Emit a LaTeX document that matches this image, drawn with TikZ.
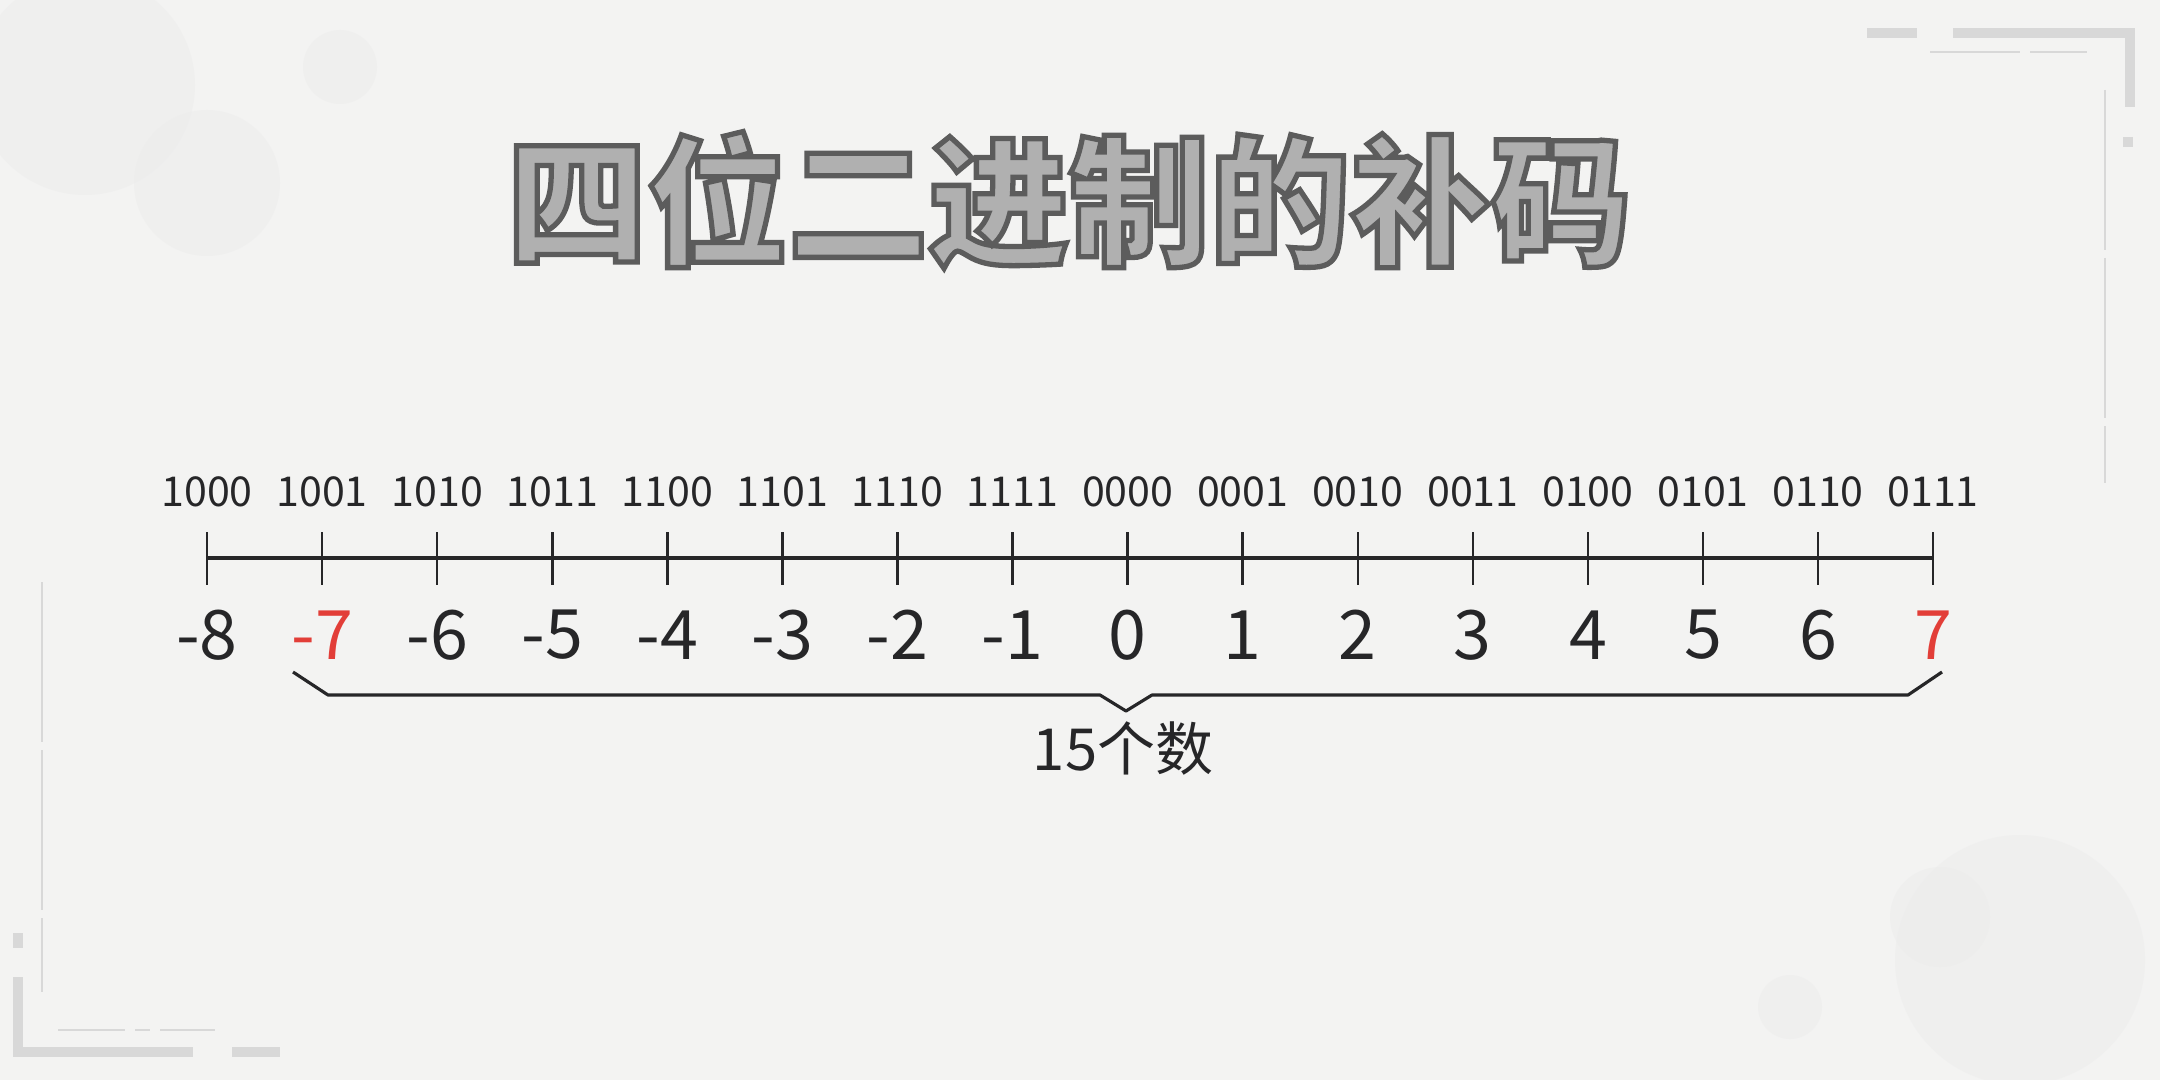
\documentclass[tikz,border=0pt]{standalone}
\usepackage{fontspec}
\newfontfamily\cjk{Noto Sans CJK SC}
\usetikzlibrary{positioning}

\definecolor{paper}{RGB}{243,243,242}
\definecolor{ink}{RGB}{38,38,40}
\definecolor{hot}{RGB}{226,62,56}
\definecolor{deco}{RGB}{216,216,216}
\definecolor{blot}{RGB}{234,234,234}

\tikzset{
  axis/.style={ink, line width=1.2pt},
  tickline/.style={ink, line width=0.7pt},
  binlab/.style={text=ink, font=\cjk\fontsize{11.7}{14}\selectfont, inner sep=0pt},
  declab/.style={font=\cjk\fontsize{19.4}{22}\selectfont, inner sep=0pt},
  countlab/.style={text=ink, font=\cjk\fontsize{16.5}{19}\selectfont, inner sep=0pt},
  bracket/.style={ink, line width=0.9pt, line join=round},
  titlefont/.style={font=\cjk\bfseries\fontsize{40}{44}\selectfont, inner sep=0pt},
  decoline/.style={deco, line width=2.6pt},
  thinline/.style={deco, line width=0.8pt},
  blotfill/.style={fill=blot, opacity=0.4},
}

% outlined title text: fill + dark stroke
\newcommand{\outlined}[1]{\special{pdf:literal direct 2 Tr 1.5 w 0.36 G}#1\special{pdf:literal direct 0 Tr}}

\begin{document}
\begin{tikzpicture}
  % paper
  \fill[paper] (0,0) rectangle (21.6,-10.8);
  \useasboundingbox (0,0) rectangle (21.6,-10.8);

  % faint blots
  \fill[blotfill] (0.85,-0.85) circle (1.1);
  \fill[blotfill] (2.07,-1.83) circle (0.73);
  \fill[blotfill] (3.40,-0.67) circle (0.37);
  \fill[blotfill] (20.2,-9.6) circle (1.25);
  \fill[blotfill] (19.40,-9.17) circle (0.5);
  \fill[blotfill] (17.90,-10.07) circle (0.32);

  % corner marks
  \draw[decoline] (18.67,-0.33) -- (19.17,-0.33);
  \draw[decoline] (19.53,-0.33) -- (21.30,-0.33) -- (21.30,-1.07);
  \draw[decoline] (21.28,-1.37) -- (21.28,-1.47);
  \draw[thinline, dash pattern=on 0.9cm off 0.1cm] (19.30,-0.52) -- (20.87,-0.52);
  \draw[thinline, dash pattern=on 1.6cm off 0.08cm] (21.05,-0.90) -- (21.05,-4.83);
  \draw[decoline] (0.18,-9.33) -- (0.18,-9.48);
  \draw[decoline] (0.18,-9.77) -- (0.18,-10.52) -- (1.93,-10.52);
  \draw[decoline] (2.32,-10.52) -- (2.80,-10.52);
  \draw[thinline, dash pattern=on 1.6cm off 0.08cm] (0.42,-5.82) -- (0.42,-9.92);
  \draw[thinline] (0.58,-10.30) -- (1.25,-10.30);
  \draw[thinline] (1.35,-10.30) -- (1.50,-10.30);
  \draw[thinline] (1.60,-10.30) -- (2.15,-10.30);

  % title
  \node[titlefont, text=gray!62] (title) at (10.69,-2.0) {\outlined{四位二进制的补码}};

  % ticks with both labels
  \foreach \d/\b/\c [count=\k] in {-8/1000/ink, -7/1001/hot, -6/1010/ink, -5/1011/ink,
      -4/1100/ink, -3/1101/ink, -2/1110/ink, -1/1111/ink, 0/0000/ink, 1/0001/ink,
      2/0010/ink, 3/0011/ink, 4/0100/ink, 5/0101/ink, 6/0110/ink, 7/0111/hot} {
    \coordinate (t\k) at ({0.92+1.1507*\k},-5.58);
    \draw[tickline] ([yshift=0.26cm]t\k) -- ([yshift=-0.27cm]t\k);
    \node[binlab, yshift=0.66cm] (bin\k) at (t\k) {\b};
    \node[declab, text=\c, yshift=-0.77cm] (dec\k) at (t\k) {\d};
  }
  \draw[axis] (t1) -- (t16);

  % bracket under -7 ... 7
  \coordinate (tip) at (11.26,-7.11);
  \draw[bracket] (2.93,-6.72) -- (3.28,-6.95) -- (11.00,-6.95) -- (tip)
    -- (11.52,-6.95) -- (19.08,-6.95) -- (19.42,-6.72);
  \node[countlab] (count) at (11.23,-7.49) {15个数};
\end{tikzpicture}
\end{document}
